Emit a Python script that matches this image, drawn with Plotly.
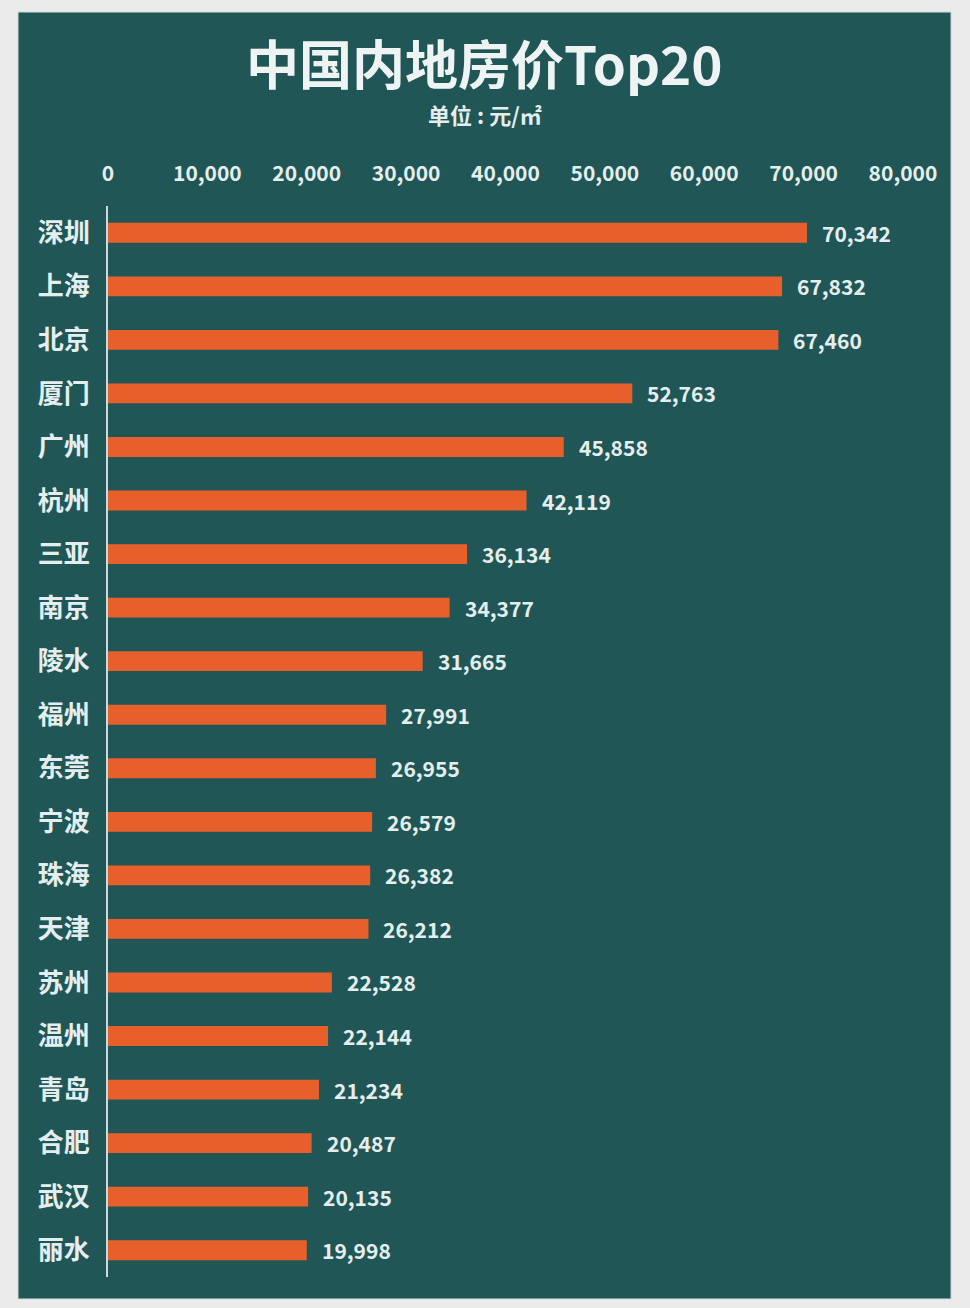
import plotly.graph_objects as go

cities = ["深圳", "上海", "北京", "厦门", "广州", "杭州", "三亚", "南京", "陵水", "福州",
          "东莞", "宁波", "珠海", "天津", "苏州", "温州", "青岛", "合肥", "武汉", "丽水"]
prices = [70342, 67832, 67460, 52763, 45858, 42119, 36134, 34377, 31665, 27991,
          26955, 26579, 26382, 26212, 22528, 22144, 21234, 20487, 20135, 19998]
tick_vals = [0, 10000, 20000, 30000, 40000, 50000, 60000, 70000, 80000]
tick_text = [f"<b>{v:,}</b>" for v in tick_vals]

PANEL = "#215656"
ORANGE = "#e7602b"
TEXT = "#e4eeee"
FONT = "Noto Sans CJK SC"

fig = go.Figure()
fig.add_trace(go.Bar(
    x=prices, y=cities, orientation="h",
    marker=dict(color=ORANGE, line=dict(width=0)),
    width=0.37, hoverinfo="x+y",
))

annotations = []
for c, v in zip(cities, prices):
    annotations.append(dict(
        x=v, y=c, xref="x", yref="y", text=f"<b>{v:,}</b>", showarrow=False,
        xanchor="left", yanchor="middle", xshift=13,
        font=dict(family=FONT, size=21, color=TEXT),
    ))
annotations.append(dict(
    x=0.474, y=1.1345, xref="paper", yref="paper", text="<b>中国内地房价Top20</b>",
    showarrow=False, xanchor="center", yanchor="middle",
    font=dict(family=FONT, size=53, color="#eef3f3"),
))
annotations.append(dict(
    x=0.474, y=1.0855, xref="paper", yref="paper", text="<b>单位 : 元/㎡</b>",
    showarrow=False, xanchor="center", yanchor="middle",
    font=dict(family=FONT, size=22, color=TEXT),
))

fig.update_layout(
    width=970, height=1308,
    margin=dict(l=108, r=67, t=206, b=31),
    paper_bgcolor="#ebebeb",
    plot_bgcolor="rgba(0,0,0,0)",
    showlegend=False,
    annotations=annotations,
    shapes=[dict(type="rect", xref="paper", yref="paper",
                 x0=-0.1132, x1=1.0604, y0=-0.0205, y1=1.1811,
                 fillcolor=PANEL, line=dict(color="#c9d9d9", width=1), layer="below")],
    xaxis=dict(side="top", range=[0, 80000], tickvals=tick_vals, ticktext=tick_text,
               showgrid=False, zeroline=False, showline=False,
               ticks="", ticklabelstandoff=20,
               tickfont=dict(family=FONT, size=21, color=TEXT)),
    yaxis=dict(autorange="reversed", showgrid=False, zeroline=False,
               showline=True, linecolor="#c8dcdc", linewidth=2,
               ticks="", ticklabelstandoff=11,
               tickfont=dict(family=FONT, size=26, color=TEXT)),
    bargap=0.6,
)
fig.update_yaxes(tickprefix="<b>", ticksuffix="</b>")

fig.write_html("out.html")
